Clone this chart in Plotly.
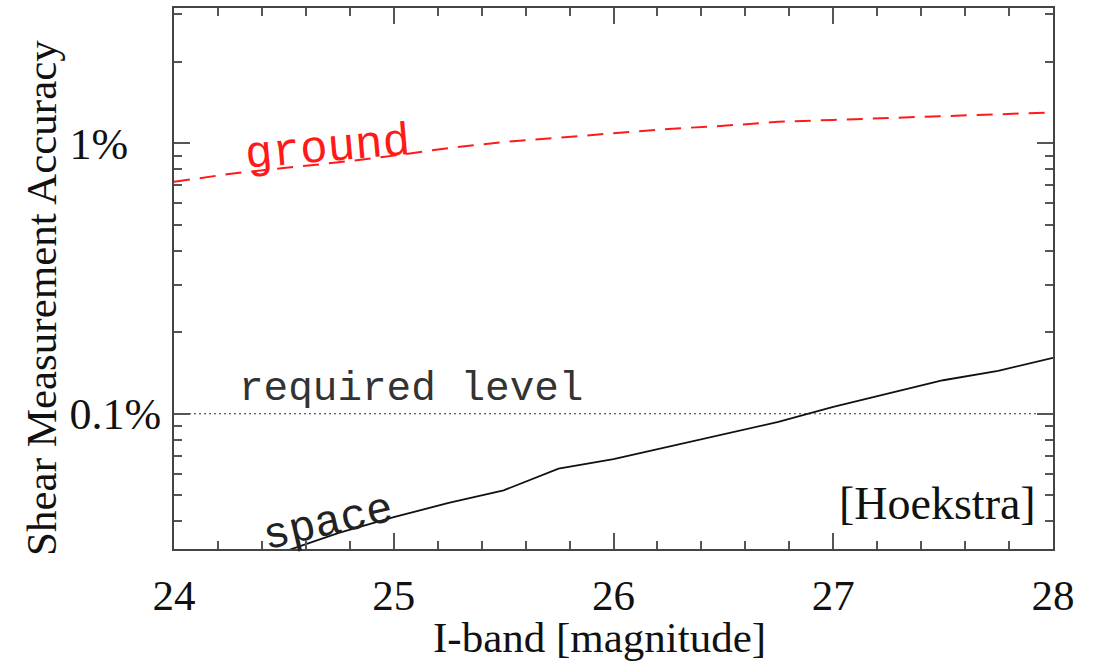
import math
import plotly.graph_objects as go

# I-band magnitude grid
mag_ground = [24.0, 24.25, 24.5, 24.75, 25.0, 25.25, 25.5, 25.75, 26.0,
              26.25, 26.5, 26.75, 27.0, 27.25, 27.5, 27.75, 28.0]
# Shear measurement accuracy in percent
acc_ground = [0.72, 0.77, 0.81, 0.85, 0.90, 0.96, 1.01, 1.05, 1.09,
              1.13, 1.16, 1.20, 1.22, 1.24, 1.26, 1.28, 1.30]

mag_space = [24.5, 24.75, 25.0, 25.25, 25.5, 25.75, 26.0, 26.25, 26.5,
             26.75, 27.0, 27.25, 27.5, 27.75, 28.0]
acc_space = [0.0309, 0.0363, 0.0415, 0.0468, 0.0521, 0.0627, 0.0680, 0.0756,
             0.0843, 0.0933, 0.106, 0.119, 0.133, 0.144, 0.161]

required_level = 0.1  # percent
x_range = [24, 28]

y_major = [0.1, 1]
y_major_text = ["0.1%", "1%\u00a0\u00a0\u00a0"]
y_minor = [0.04, 0.05, 0.06, 0.07, 0.08, 0.09,
           0.2, 0.3, 0.4, 0.5, 0.6, 0.7, 0.8, 0.9, 2, 3]
x_major = [24, 25, 26, 27, 28]

x_title = "I-band [magnitude]"
y_title = "Shear Measurement Accuracy"

SERIF = "Liberation Serif, Times New Roman, serif"
MONO = "Liberation Mono, Courier New, monospace"

fig = go.Figure()

fig.add_trace(go.Scatter(
    x=x_range, y=[required_level, required_level], mode="lines",
    line=dict(color="#333333", width=1.2, dash="2px,3px"),
    showlegend=False, hoverinfo="skip"))

fig.add_trace(go.Scatter(
    x=mag_ground, y=acc_ground, mode="lines",
    line=dict(color="#ff1a1a", width=2, dash="16px,10px"),
    showlegend=False))

fig.add_trace(go.Scatter(
    x=mag_space, y=acc_space, mode="lines",
    line=dict(color="#111111", width=1.8),
    showlegend=False))

# annotation y on a log axis is given in log10 units
fig.add_annotation(x=24.7, y=math.log10(0.95), xref="x", yref="y",
                   text="ground", showarrow=False, textangle=-5,
                   font=dict(family=MONO, size=46, color="#ff1a1a"))
fig.add_annotation(x=25.08, y=math.log10(0.123), xref="x", yref="y",
                   text="required level", showarrow=False,
                   font=dict(family=MONO, size=41, color="#333333"))
fig.add_annotation(x=24.7, y=math.log10(0.0395), xref="x", yref="y",
                   text="space", showarrow=False, textangle=-13,
                   font=dict(family=MONO, size=44, color="#222222"))
fig.add_annotation(x=27.93, y=math.log10(0.0465), xref="x", yref="y",
                   xanchor="right",
                   text="[Hoekstra]", showarrow=False,
                   font=dict(family=SERIF, size=46, color="#111111"))

# axis titles
fig.add_annotation(x=-0.1502, y=0.464, xref="paper", yref="paper",
                   xanchor="center", yanchor="middle", textangle=-90,
                   text=y_title, showarrow=False,
                   font=dict(family=SERIF, size=43, color="#111111"))
fig.add_annotation(x=0.4846, y=-0.1645, xref="paper", yref="paper",
                   xanchor="center", yanchor="middle",
                   text=x_title, showarrow=False,
                   font=dict(family=SERIF, size=43, color="#111111"))

axis_common = dict(
    showline=True, linecolor="#444444", linewidth=2, mirror="allticks",
    ticks="inside", tickcolor="#555555", tickwidth=2,
    showgrid=False, zeroline=False, automargin=False,
)

fig.update_xaxes(
    range=x_range, tickmode="array", tickvals=x_major, ticklen=16,
    ticklabelstandoff=7,
    tickfont=dict(family=SERIF, size=43, color="#111111"),
    minor=dict(dtick=0.2, ticks="inside", ticklen=8, tickcolor="#555555",
               tickwidth=2, showgrid=False),
    **axis_common)

fig.update_yaxes(
    type="log", range=[-1.5, 0.5], tickmode="array", tickvals=y_major,
    ticktext=y_major_text, ticklen=16, ticklabelstandoff=2,
    tickfont=dict(family=SERIF, size=44, color="#111111"),
    minor=dict(tickmode="array", tickvals=y_minor, ticks="inside", ticklen=8,
               tickcolor="#555555", tickwidth=2, showgrid=False),
    **axis_common)

fig.update_layout(
    width=1102, height=665,
    margin=dict(l=174, r=49, t=8, b=116, autoexpand=False),
    paper_bgcolor="white", plot_bgcolor="white",
    showlegend=False,
)

fig.write_html("out.html")
